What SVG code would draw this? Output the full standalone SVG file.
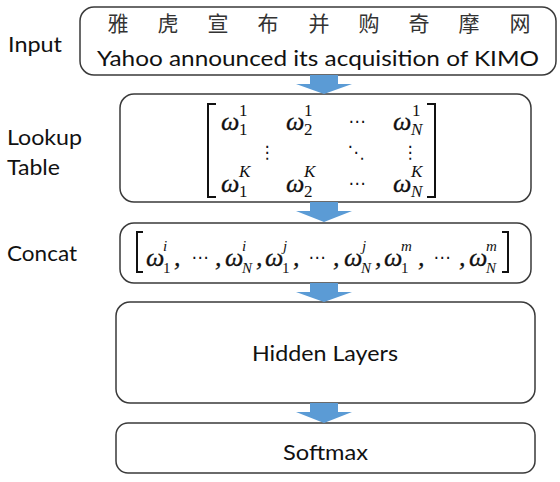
<svg xmlns="http://www.w3.org/2000/svg" width="560" height="482" viewBox="0 0 560 482">
<style>
.box{fill:#fff;stroke:#3a3a3a;stroke-width:1.5}
.lbl{font-family:Lato,"Liberation Sans",sans-serif;font-size:21px;fill:#111}
.cn{font-family:"Noto Sans CJK SC",sans-serif;font-size:21px;fill:#333;text-anchor:middle}
.w{font-family:"Liberation Serif","DejaVu Serif",serif;font-style:italic;font-size:26px;fill:#111;stroke:#111;stroke-width:0.3}
.s{font-family:"Liberation Serif","DejaVu Serif",serif;font-size:17px;fill:#111}
.si{font-family:"Liberation Serif","DejaVu Serif",serif;font-style:italic;font-size:17px;fill:#111}
.cs{font-family:"Liberation Serif","DejaVu Serif",serif;font-size:15px;fill:#111}
.csi{font-family:"Liberation Serif","DejaVu Serif",serif;font-style:italic;font-size:15px;fill:#111}
.d{font-family:"DejaVu Sans",sans-serif;font-size:17px;fill:#111;text-anchor:middle}
.br{fill:none;stroke:#111;stroke-width:2}
.arr{fill:#5b9bd5}
</style>
<g id="labels">
<text class="lbl" x="8" y="52" textLength="54" lengthAdjust="spacingAndGlyphs">Input</text>
<text class="lbl" x="7" y="145" textLength="75" lengthAdjust="spacingAndGlyphs">Lookup</text>
<text class="lbl" x="7" y="175" textLength="53" lengthAdjust="spacingAndGlyphs">Table</text>
<text class="lbl" x="7" y="261" textLength="70" lengthAdjust="spacingAndGlyphs">Concat</text>
</g>
<g id="input">
<rect class="box" x="80" y="7" width="476" height="68" rx="14"/>
<text class="cn" y="31"><tspan x="118">雅</tspan><tspan x="168">虎</tspan><tspan x="218">宣</tspan><tspan x="268">布</tspan><tspan x="319">并</tspan><tspan x="369">购</tspan><tspan x="419">奇</tspan><tspan x="469">摩</tspan><tspan x="520">网</tspan></text>
<text class="lbl" x="97" y="66" font-size="22" textLength="442" lengthAdjust="spacingAndGlyphs">Yahoo announced its acquisition of KIMO</text>
</g>
<g id="lookup">
<rect class="box" x="120" y="94" width="411" height="108" rx="14"/>
<polyline class="br" points="216,104 208,104 208,197 216,197"/>
<polyline class="br" points="427,104 435,104 435,197 427,197"/>
<text class="w" x="221" y="130">ω</text><text class="s" x="239" y="116">1</text><text class="s" x="239" y="135">1</text>
<text class="w" x="286" y="130">ω</text><text class="s" x="304" y="116">1</text><text class="s" x="304" y="135">2</text>
<text class="d" x="357" y="127">⋯</text>
<text class="w" x="393" y="130">ω</text><text class="s" x="412" y="116">1</text><text class="si" x="411" y="135">N</text>
<text class="d" x="267" y="158">⋮</text>
<text class="d" x="356" y="158">⋱</text>
<text class="d" x="410" y="158">⋮</text>
<text class="w" x="221" y="192">ω</text><text class="si" x="239" y="177">K</text><text class="s" x="239" y="197">1</text>
<text class="w" x="286" y="192">ω</text><text class="si" x="304" y="177">K</text><text class="s" x="304" y="197">2</text>
<text class="d" x="357" y="189">⋯</text>
<text class="w" x="393" y="192">ω</text><text class="si" x="411" y="177">K</text><text class="si" x="411" y="197">N</text>
</g>
<g id="concat">
<rect class="box" x="120" y="223" width="411" height="60" rx="14"/>
<polyline class="br" points="143,232 137,232 137,272 143,272"/>
<polyline class="br" points="502,232 508,232 508,272 502,272"/>
<text class="w" x="146" y="266">ω</text><text class="csi" x="163" y="251">i</text><text class="cs" x="163" y="273">1</text>
<text class="w" x="174" y="266">,</text>
<text class="d" x="200" y="263">⋯</text>
<text class="w" x="215" y="266">,</text>
<text class="w" x="225" y="266">ω</text><text class="csi" x="242" y="251">i</text><text class="csi" x="242" y="273">N</text>
<text class="w" x="256" y="266">,</text>
<text class="w" x="265" y="266">ω</text><text class="csi" x="283" y="251">j</text><text class="cs" x="282" y="273">1</text>
<text class="w" x="293" y="266">,</text>
<text class="d" x="317" y="263">⋯</text>
<text class="w" x="333" y="266">,</text>
<text class="w" x="344" y="266">ω</text><text class="csi" x="362" y="251">j</text><text class="csi" x="361" y="273">N</text>
<text class="w" x="375" y="266">,</text>
<text class="w" x="384" y="266">ω</text><text class="csi" x="401" y="251">m</text><text class="cs" x="401" y="273">1</text>
<text class="w" x="418" y="266">,</text>
<text class="d" x="442" y="263">⋯</text>
<text class="w" x="459" y="266">,</text>
<text class="w" x="469" y="266">ω</text><text class="csi" x="486" y="251">m</text><text class="csi" x="486" y="273">N</text>
</g>
<g id="hidden">
<rect class="box" x="116" y="302" width="419" height="101" rx="14"/>
<text class="lbl" x="252" y="361" font-size="23" textLength="146" lengthAdjust="spacingAndGlyphs">Hidden Layers</text>
</g>
<g id="softmax">
<rect class="box" x="116" y="423" width="419" height="50" rx="12"/>
<text class="lbl" x="283" y="460" font-size="23" textLength="85" lengthAdjust="spacingAndGlyphs">Softmax</text>
</g>
<g id="connectors">
<polygon class="arr" points="310,75 338,75 338,84 352,84 324,94 296,84 310,84"/>
<polygon class="arr" points="310,202 338,202 338,211 352,211 324,222 296,211 310,211"/>
<polygon class="arr" points="310,283 338,283 338,292 352,292 324,302 296,292 310,292"/>
<polygon class="arr" points="310,403 338,403 338,412 352,412 324,423 296,412 310,412"/>
</g>
</svg>
